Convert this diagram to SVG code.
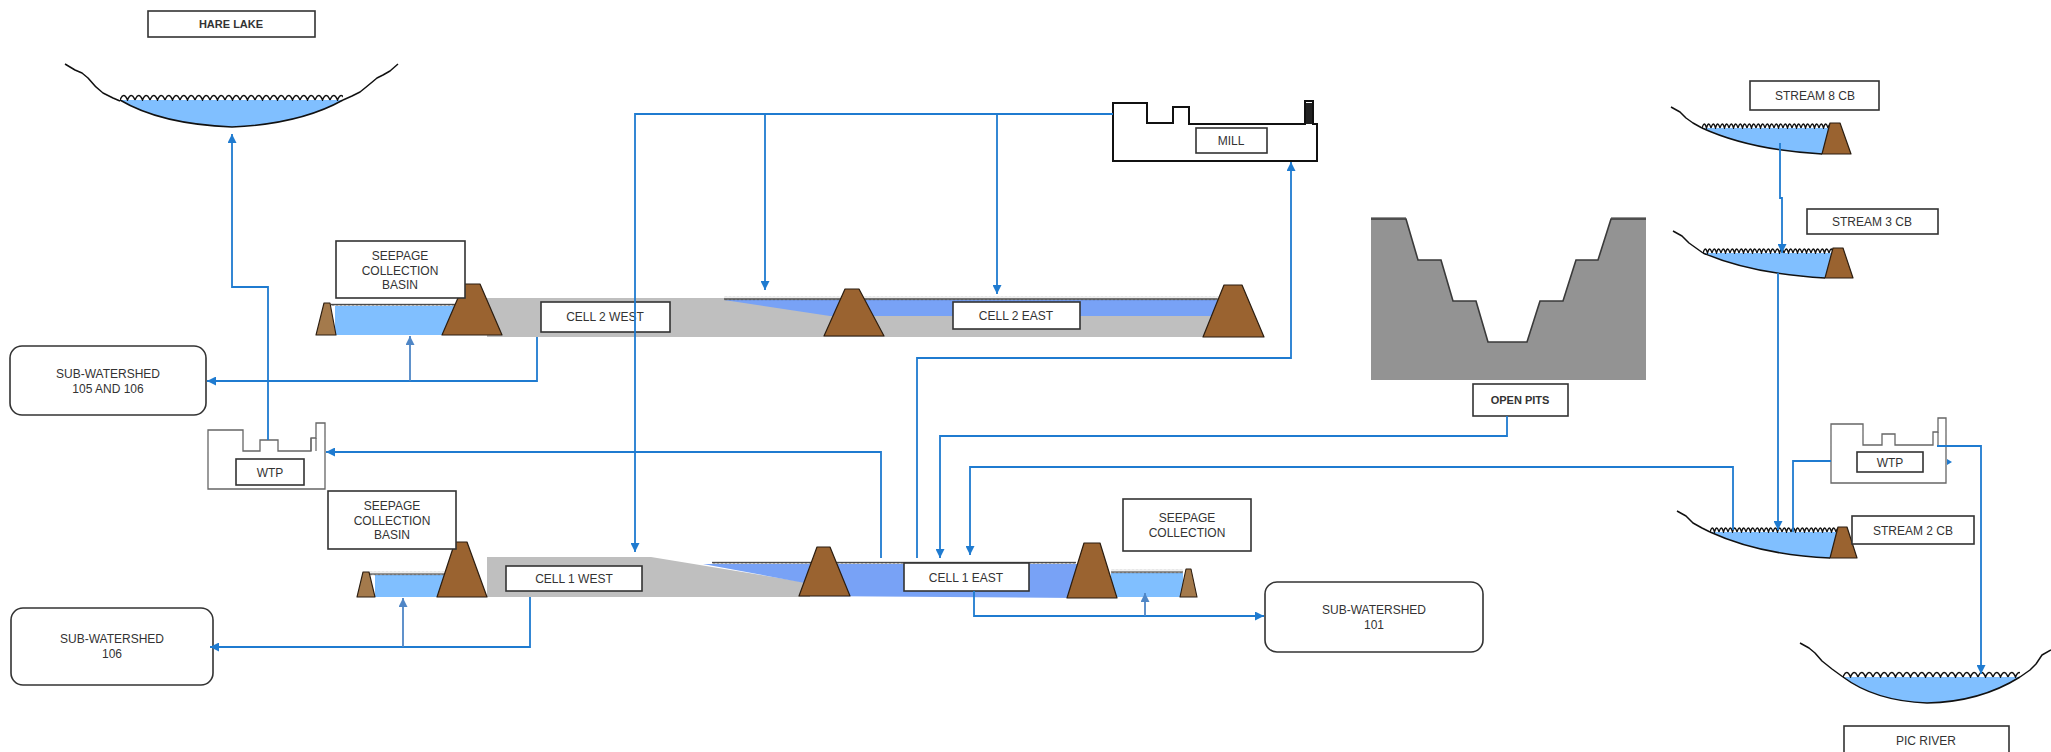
<svg xmlns="http://www.w3.org/2000/svg" width="2051" height="752" viewBox="0 0 2051 752">
  <style>
    .lbl{fill:#fff;stroke:#333;stroke-width:1.6}
    .rbox{fill:#fff;stroke:#333;stroke-width:1.6}
    .t{font-family:"Liberation Sans",Arial,sans-serif;font-size:12px;fill:#333;text-anchor:middle}
    .tb{font-family:"Liberation Sans",Arial,sans-serif;font-size:11px;font-weight:bold;fill:#333;text-anchor:middle}
    .dike{fill:#9a6330;stroke:#2b1d10;stroke-width:1.2;stroke-linejoin:round}
    .dikes{fill:#a47a4c;stroke:#2b1d10;stroke-width:1.1;stroke-linejoin:round}
    .lake{fill:#80bfff}
    .cellw{fill:#78a2f6}
    .tail{fill:#bfbfbf}
    .rim{fill:none;stroke:#111;stroke-width:1.5;stroke-linejoin:round}
    .bld{fill:#fff;stroke:#111;stroke-width:2}
    .bldl{fill:#fff;stroke:#666;stroke-width:1.3}
    .flow{fill:none;stroke:#1f7bd0;stroke-width:1.8}
    .flow2{fill:none;stroke:#4f86c6;stroke-width:1.8}
  </style>
  <defs>
    <marker id="ah" viewBox="0 0 10 10" refX="10" refY="5" markerWidth="11" markerHeight="9" markerUnits="userSpaceOnUse" orient="auto">
      <path d="M0,0 L10,5 L0,10 Z" fill="#1f7bd0"/>
    </marker>
    <marker id="ah2" viewBox="0 0 10 10" refX="10" refY="5" markerWidth="11" markerHeight="9" markerUnits="userSpaceOnUse" orient="auto">
      <path d="M0,0 L10,5 L0,10 Z" fill="#4f86c6"/>
    </marker>
    <pattern id="wv-lake" width="15" height="8" patternUnits="userSpaceOnUse">
      <path d="M0,7 Q3.75,-2 7.5,7 Q11.25,-2 15,7" fill="none" stroke="#111" stroke-width="1.5"/>
    </pattern>
    <pattern id="wv-mid" width="9" height="7" patternUnits="userSpaceOnUse">
      <path d="M0,6 Q2.25,-2 4.5,6 Q6.75,-2 9,6" fill="none" stroke="#111" stroke-width="1.3"/>
    </pattern>
    <pattern id="wv-fine" width="4" height="4" patternUnits="userSpaceOnUse">
      <path d="M0,3.5 Q1,0 2,3.5 Q3,0 4,3.5" fill="none" stroke="#222" stroke-width="1"/>
    </pattern>
  </defs>

  <rect width="2051" height="752" fill="#fff"/>

  <!-- Hare Lake -->
  <g id="hare-lake">
    <path class="lake" d="M120,100 L343,100 Q300,124 232,127 Q160,124 120,100 Z"/>
    <path class="rim" d="M343,100 Q300,124 232,127 Q160,124 120,100"/>
    <path class="rim" d="M65,64 L75,70 L82,73 L88,78 Q95,87 103,93 L113,98 L120,101"/>
    <path class="rim" d="M343,100 L352,96 L360,92 Q370,84 377,78 L383,75 L390,71 L398,64"/>
    <g transform="translate(120,93)"><rect width="223" height="8" fill="url(#wv-lake)"/></g>
    <rect class="lbl" x="148" y="11" width="167" height="26"/>
    <text class="tb" x="231" y="28">HARE LAKE</text>
  </g>

  <!-- Cell 2 west with its seepage collection basin -->
  <g id="cell-2-west">
    <rect class="tail" x="487" y="298" width="730" height="39"/>
    <path class="lake" d="M335,306 L455,306 L446,335 L335,335 Z"/>
    <g transform="translate(331,302)"><rect width="124" height="4" fill="url(#wv-fine)"/></g>
    <path class="dikes" d="M316,335 L324,303 L330,303 L336,335 Z"/>
    <path class="dike" d="M442,335 L464,284 L480,284 L502,335 Z"/>
    <rect class="lbl" x="541" y="302" width="129" height="30"/>
    <text class="t" x="605" y="321">CELL 2 WEST</text>
  </g>
  <g id="seepage-basin-upper">
    <rect class="lbl" x="336" y="241" width="129" height="57"/>
    <text class="t" x="400" y="260">SEEPAGE</text>
    <text class="t" x="400" y="275">COLLECTION</text>
    <text class="t" x="400" y="289">BASIN</text>
  </g>

  <!-- Cell 2 east -->
  <g id="cell-2-east">
    <path class="cellw" d="M724,300 L1222,300 L1222,316 L830,316 Z"/>
    <g transform="translate(724,296.5)"><rect width="496" height="4" fill="url(#wv-fine)"/></g>
    <path class="dike" d="M824,336 L845,289 L859,289 L884,336 Z"/>
    <path class="dike" d="M1203,337 L1224,285 L1242,285 L1264,337 Z"/>
    <rect class="lbl" x="953" y="302" width="127" height="27"/>
    <text class="t" x="1016" y="320">CELL 2 EAST</text>
  </g>

  <!-- Mill -->
  <g id="mill">
    <path class="bld" d="M1113,103 H1147 V123 H1173 V107 H1189 V124 H1305 V101 H1313 V124 H1317 V161 H1113 Z"/>
    <rect x="1306" y="103" width="6" height="21" fill="#222"/>
    <rect class="lbl" x="1196" y="128" width="71" height="25"/>
    <text class="t" x="1231" y="145">MILL</text>
  </g>

  <!-- Sub-watershed 105 and 106 -->
  <g id="sub-watershed-105-106">
    <rect class="rbox" x="10" y="346" width="196" height="69" rx="12"/>
    <text class="t" x="108" y="378">SUB-WATERSHED</text>
    <text class="t" x="108" y="393">105 AND 106</text>
  </g>

  <!-- Water treatment plant (west) -->
  <g id="wtp-west">
    <path class="bldl" d="M208,430 H243 V451 H260 V440 H278 V451 H311 V438 H316 V423 H325 V489 H208 Z"/>
    <path d="M311,438 V451 M316,438 V451" stroke="#666" stroke-width="1.2" fill="none"/>
    <rect class="lbl" x="236" y="459" width="68" height="26"/>
    <text class="t" x="270" y="477">WTP</text>
  </g>

  <!-- Cell 1 west with its seepage collection basin -->
  <g id="cell-1-west">
    <path class="tail" d="M487,557 L651,557 L810,583 L810,597 L487,597 Z"/>
    <path class="lake" d="M375,575 L444,575 L440,597 L375,597 Z"/>
    <g transform="translate(369,571.5)"><rect width="76" height="4" fill="url(#wv-fine)"/></g>
    <path class="dikes" d="M357,597 L363,572 L369,572 L375,597 Z"/>
    <path class="dike" d="M437,597 L455,542 L467,542 L487,597 Z"/>
    <rect class="lbl" x="506" y="566" width="136" height="25"/>
    <text class="t" x="574" y="583">CELL 1 WEST</text>
  </g>
  <g id="seepage-basin-lower">
    <rect class="lbl" x="328" y="491" width="128" height="58"/>
    <text class="t" x="392" y="510">SEEPAGE</text>
    <text class="t" x="392" y="525">COLLECTION</text>
    <text class="t" x="392" y="539">BASIN</text>
  </g>

  <!-- Cell 1 east with its seepage collection pond -->
  <g id="cell-1-east">
    <path class="cellw" d="M703,564 L1078,564 L1078,598 L805,596 L805,583 Z"/>
    <g transform="translate(712,560)"><rect width="364" height="4" fill="url(#wv-fine)"/></g>
    <path class="lake" d="M1111,573 L1183,573 L1183,597 L1111,597 Z"/>
    <g transform="translate(1111,569.5)"><rect width="72" height="4" fill="url(#wv-fine)"/></g>
    <path class="dike" d="M799,596 L817,547 L830,547 L850,596 Z"/>
    <path class="dike" d="M1067,598 L1084,543 L1100,543 L1117,598 Z"/>
    <path class="dikes" d="M1180,597 L1186,569 L1191,569 L1197,597 Z"/>
    <rect class="lbl" x="904" y="563" width="125" height="28"/>
    <text class="t" x="966" y="582">CELL 1 EAST</text>
  </g>
  <g id="seepage-collection">
    <rect class="lbl" x="1123" y="499" width="128" height="52"/>
    <text class="t" x="1187" y="522">SEEPAGE</text>
    <text class="t" x="1187" y="537">COLLECTION</text>
  </g>

  <!-- Sub-watershed 101 -->
  <g id="sub-watershed-101">
    <rect class="rbox" x="1265" y="582" width="218" height="70" rx="12"/>
    <text class="t" x="1374" y="614">SUB-WATERSHED</text>
    <text class="t" x="1374" y="629">101</text>
  </g>

  <!-- Sub-watershed 106 -->
  <g id="sub-watershed-106">
    <rect class="rbox" x="11" y="608" width="202" height="77" rx="12"/>
    <text class="t" x="112" y="643">SUB-WATERSHED</text>
    <text class="t" x="112" y="658">106</text>
  </g>

  <!-- Open pits -->
  <g id="open-pits">
    <rect x="1371" y="217" width="275" height="163" fill="#939393"/>
    <path d="M1406,216 L1406,219 L1418,260 L1441,260 L1453,301 L1476,301 L1488,342 L1527,342 L1540,301 L1563,301 L1576,260 L1598,260 L1611,219 L1611,216 Z" fill="#fff"/>
    <path d="M1371,219 H1406 L1418,260 H1441 L1453,301 H1476 L1488,342 H1527 L1540,301 H1563 L1576,260 H1598 L1611,219 H1646" fill="none" stroke="#3a3a3a" stroke-width="1.6"/>
    <rect class="lbl" x="1473" y="384" width="95" height="32"/>
    <text class="tb" x="1520" y="404">OPEN PITS</text>
  </g>

  <!-- Stream 8 collection basin -->
  <g id="stream-8-cb">
    <path class="lake" d="M1702,128 L1833,128 L1822,154 Q1750,150 1702,128 Z"/>
    <path class="rim" d="M1822,154 Q1750,150 1702,128"/>
    <path class="rim" d="M1671,107 L1680,112 L1686,118 L1693,123 L1702,128"/>
    <g transform="translate(1702,122)"><rect width="128" height="7" fill="url(#wv-mid)"/></g>
    <path class="dike" d="M1822,154 L1830,123 L1840,123 L1851,154 Z"/>
    <rect class="lbl" x="1750" y="81" width="129" height="29"/>
    <text class="t" x="1815" y="100">STREAM 8 CB</text>
  </g>

  <!-- Stream 3 collection basin -->
  <g id="stream-3-cb">
    <path class="lake" d="M1703,253 L1836,253 L1825,278 Q1752,274 1703,253 Z"/>
    <path class="rim" d="M1825,278 Q1752,274 1703,253"/>
    <path class="rim" d="M1673,231 L1682,236 L1689,243 L1696,248 L1703,253"/>
    <g transform="translate(1703,247)"><rect width="130" height="7" fill="url(#wv-mid)"/></g>
    <path class="dike" d="M1825,278 L1833,248 L1843,248 L1853,278 Z"/>
    <rect class="lbl" x="1807" y="209" width="131" height="25"/>
    <text class="t" x="1872" y="226">STREAM 3 CB</text>
  </g>

  <!-- Stream 2 collection basin -->
  <g id="stream-2-cb">
    <path class="lake" d="M1710,532 L1840,532 L1830,558 Q1760,555 1710,532 Z"/>
    <path class="rim" d="M1830,558 Q1760,555 1710,532"/>
    <path class="rim" d="M1677,511 L1686,516 L1693,523 L1702,528 L1710,532"/>
    <g transform="translate(1710,526)"><rect width="128" height="7" fill="url(#wv-mid)"/></g>
    <path class="dike" d="M1830,558 L1838,527 L1847,527 L1857,558 Z"/>
    <rect class="lbl" x="1852" y="516" width="122" height="28"/>
    <text class="t" x="1913" y="535">STREAM 2 CB</text>
  </g>

  <!-- Water treatment plant (east) -->
  <g id="wtp-east">
    <path class="bldl" d="M1831,424 H1863 V445 H1882 V434 H1895 V445 H1933 V432 H1938 V418 H1946 V483 H1831 Z"/>
    <path d="M1938,432 V445" stroke="#666" stroke-width="1.2" fill="none"/>
    <rect class="lbl" x="1857" y="452" width="66" height="20"/>
    <text class="t" x="1890" y="467">WTP</text>
  </g>

  <!-- Pic River -->
  <g id="pic-river">
    <path class="lake" d="M1843,677 L2020,677 Q1980,702 1927,703 Q1875,701 1843,677 Z"/>
    <path class="rim" d="M2020,677 Q1980,702 1927,703 Q1875,701 1843,677"/>
    <path class="rim" d="M1800,643 L1809,648 L1815,653 L1822,661 L1832,669 L1843,677"/>
    <path class="rim" d="M2020,677 L2030,670 L2036,664 L2042,655 L2051,650"/>
    <g transform="translate(1843,670)"><rect width="177" height="8" fill="url(#wv-lake)"/></g>
    <rect class="lbl" x="1844" y="726" width="165" height="30"/>
    <text class="t" x="1926" y="745">PIC RIVER</text>
  </g>

  <!-- Flow connectors -->
  <g id="connectors">
    <path class="flow" d="M268,440 V287 H232 V134" marker-end="url(#ah)"/>
    <path class="flow" d="M537,337 V381 H207" marker-end="url(#ah)"/>
    <path class="flow2" d="M410,381 V336" marker-end="url(#ah2)"/>
    <path class="flow" d="M1113,114 H635 V552" marker-end="url(#ah)"/>
    <path class="flow" d="M765,114 V290" marker-end="url(#ah)"/>
    <path class="flow" d="M997,114 V294" marker-end="url(#ah)"/>
    <path class="flow" d="M917,558 V358 H1291 V162" marker-end="url(#ah)"/>
    <path class="flow" d="M881,558 V452 H326" marker-end="url(#ah)"/>
    <path class="flow" d="M1507,416 V436 H940 V558" marker-end="url(#ah)"/>
    <path class="flow" d="M1733,530 V467 H970 V555" marker-end="url(#ah)"/>
    <path class="flow" d="M530,597 V647 H210" marker-end="url(#ah)"/>
    <path class="flow2" d="M403,647 V598" marker-end="url(#ah2)"/>
    <path class="flow" d="M974,591 V616 H1264" marker-end="url(#ah)"/>
    <path class="flow2" d="M1145,616 V593" marker-end="url(#ah2)"/>
    <path class="flow" d="M1780,143 V198 H1782 V253" marker-end="url(#ah)"/>
    <path class="flow" d="M1778,273 V530" marker-end="url(#ah)"/>
    <path class="flow" d="M1793,532 V461 H1831"/>
    <path class="flow" d="M1937,446 H1981 V674" marker-end="url(#ah)"/>
    <path d="M1947,459 L1952,462 L1947,465 Z" fill="#1f7bd0"/>
  </g>
</svg>
